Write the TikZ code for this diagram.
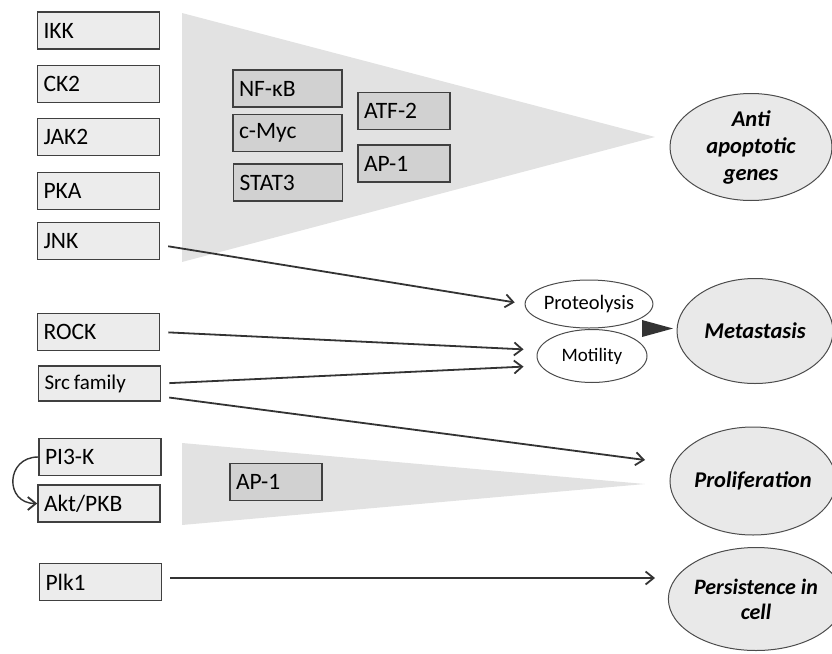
\documentclass[tikz,border=0pt]{standalone}
\usepackage{fontspec}
\setmainfont{Carlito}
\usetikzlibrary{arrows.meta}
\usetikzlibrary{shapes}
\usetikzlibrary{shapes.geometric}
\tikzset{
  kinase/.style={draw=black!75,fill=gray!15,line width=1.6pt,minimum height=37pt,
    text width=110pt,inner xsep=6pt,align=left,font=\fontsize{23.5}{26}\selectfont},
  factor/.style={kinase,fill=gray!36,text width=97pt},
  outcome/.style={ellipse,draw=gray!60!black,fill=gray!17,line width=1pt,inner sep=0pt,
    align=center,font=\fontsize{22.5}{27}\selectfont\bfseries\itshape},
  process/.style={ellipse,draw=black!70,fill=white,line width=1pt,inner sep=0pt,
    font=\fontsize{19}{21}\selectfont},
  link/.style={-{Straight Barb[length=8pt,width=13pt,line width=1.8pt]},line width=1.8pt,draw=black!80},
}

\begin{document}
\begin{tikzpicture}[x=1pt,y=-1pt]
      \useasboundingbox (0,0) rectangle (832,653);

      % shaded wedges
      \fill[gray!23] (182,13) -- (655,137) -- (182,262) -- cycle;
      \fill[gray!23] (182,443) -- (645,484) -- (182,525) -- cycle;

      % kinases
      \node[kinase] (ikk) at (98.5,30.5) {IKK};
      \node[kinase] (ck2) at (98.5,84) {CK2};
      \node[kinase] (jak2) at (98.5,137) {JAK2};
      \node[kinase] (pka) at (98.5,191) {PKA};
      \node[kinase] (jnk) at (98.5,241) {JNK};
      \node[kinase] (rock) at (98.5,332) {ROCK};
      \node[kinase,minimum height=35pt,font=\fontsize{21}{23}\selectfont] (src) at (99.5,383.5) {Src\hspace{0.18em}family};
      \node[kinase] (pik) at (100,457) {PI3-K};
      \node[kinase] (akt) at (99,503.5) {Akt/PKB};
      \node[kinase] (plk) at (100.5,582) {Plk1};

      % transcription factors
      \node[factor] (nfkb) at (287.5,88.5) {NF-κB};
      \node[factor] (myc) at (287.5,133) {c-Myc};
      \node[factor] (stat) at (288,182.5) {STAT3};
      \node[factor,text width=80pt] (atf) at (404,111) {ATF-2};
      \node[factor,text width=80pt] (apa) at (404,163.5) {AP-1};
      \node[factor,text width=80pt] (apb) at (276,482) {AP-1};

      % outcomes
      \node[outcome,minimum width=162pt,minimum height=107pt] (anti) at (751,147) {Anti\\apoptotic\\genes};
      \node[process,minimum width=108pt,minimum height=48pt,font=\fontsize{20.5}{22}\selectfont] (prot) at (589,304) {Proteolysis};
      \node[process,minimum width=110pt,minimum height=53pt] (mot) at (592,356) {Motility};
      \node[outcome,minimum width=156pt,minimum height=105pt] (meta) at (755,331) {Metastasis};
      \node[outcome,minimum width=156pt,minimum height=108pt] (prolif) at (753,481) {Proliferation};
      \node[outcome,minimum width=152pt,minimum height=103pt,font=\fontsize{22}{25}\selectfont\bfseries\itshape] (persist) at (756,599) {Persistence in\\cell};

      \coordinate (toprolif) at (645,460);
      \coordinate (topersist) at (655,578);

      \path ([yshift=-4pt]jnk.east) edge[link,shorten <=8pt,shorten >=10pt] (prot.west);
      \path (rock.east) edge[link,shorten <=8pt,shorten >=13pt] ([yshift=6pt]mot.west);
      \path (src.east) edge[link,shorten <=8pt,shorten >=13pt] ([yshift=-10pt]mot.west);
      \path ([yshift=-13pt]src.east) edge[link,shorten <=8pt] (toprolif);
      \path ([yshift=4pt]plk.east) edge[link,shorten <=8pt] (topersist);
      \path (pik.west) edge[link,line width=1.4pt,out=180,in=180,looseness=1.8] (akt.west);

      \fill[black!80] (642,320) -- (673,328.5) -- (642,337) -- cycle;
\end{tikzpicture}
\end{document}
